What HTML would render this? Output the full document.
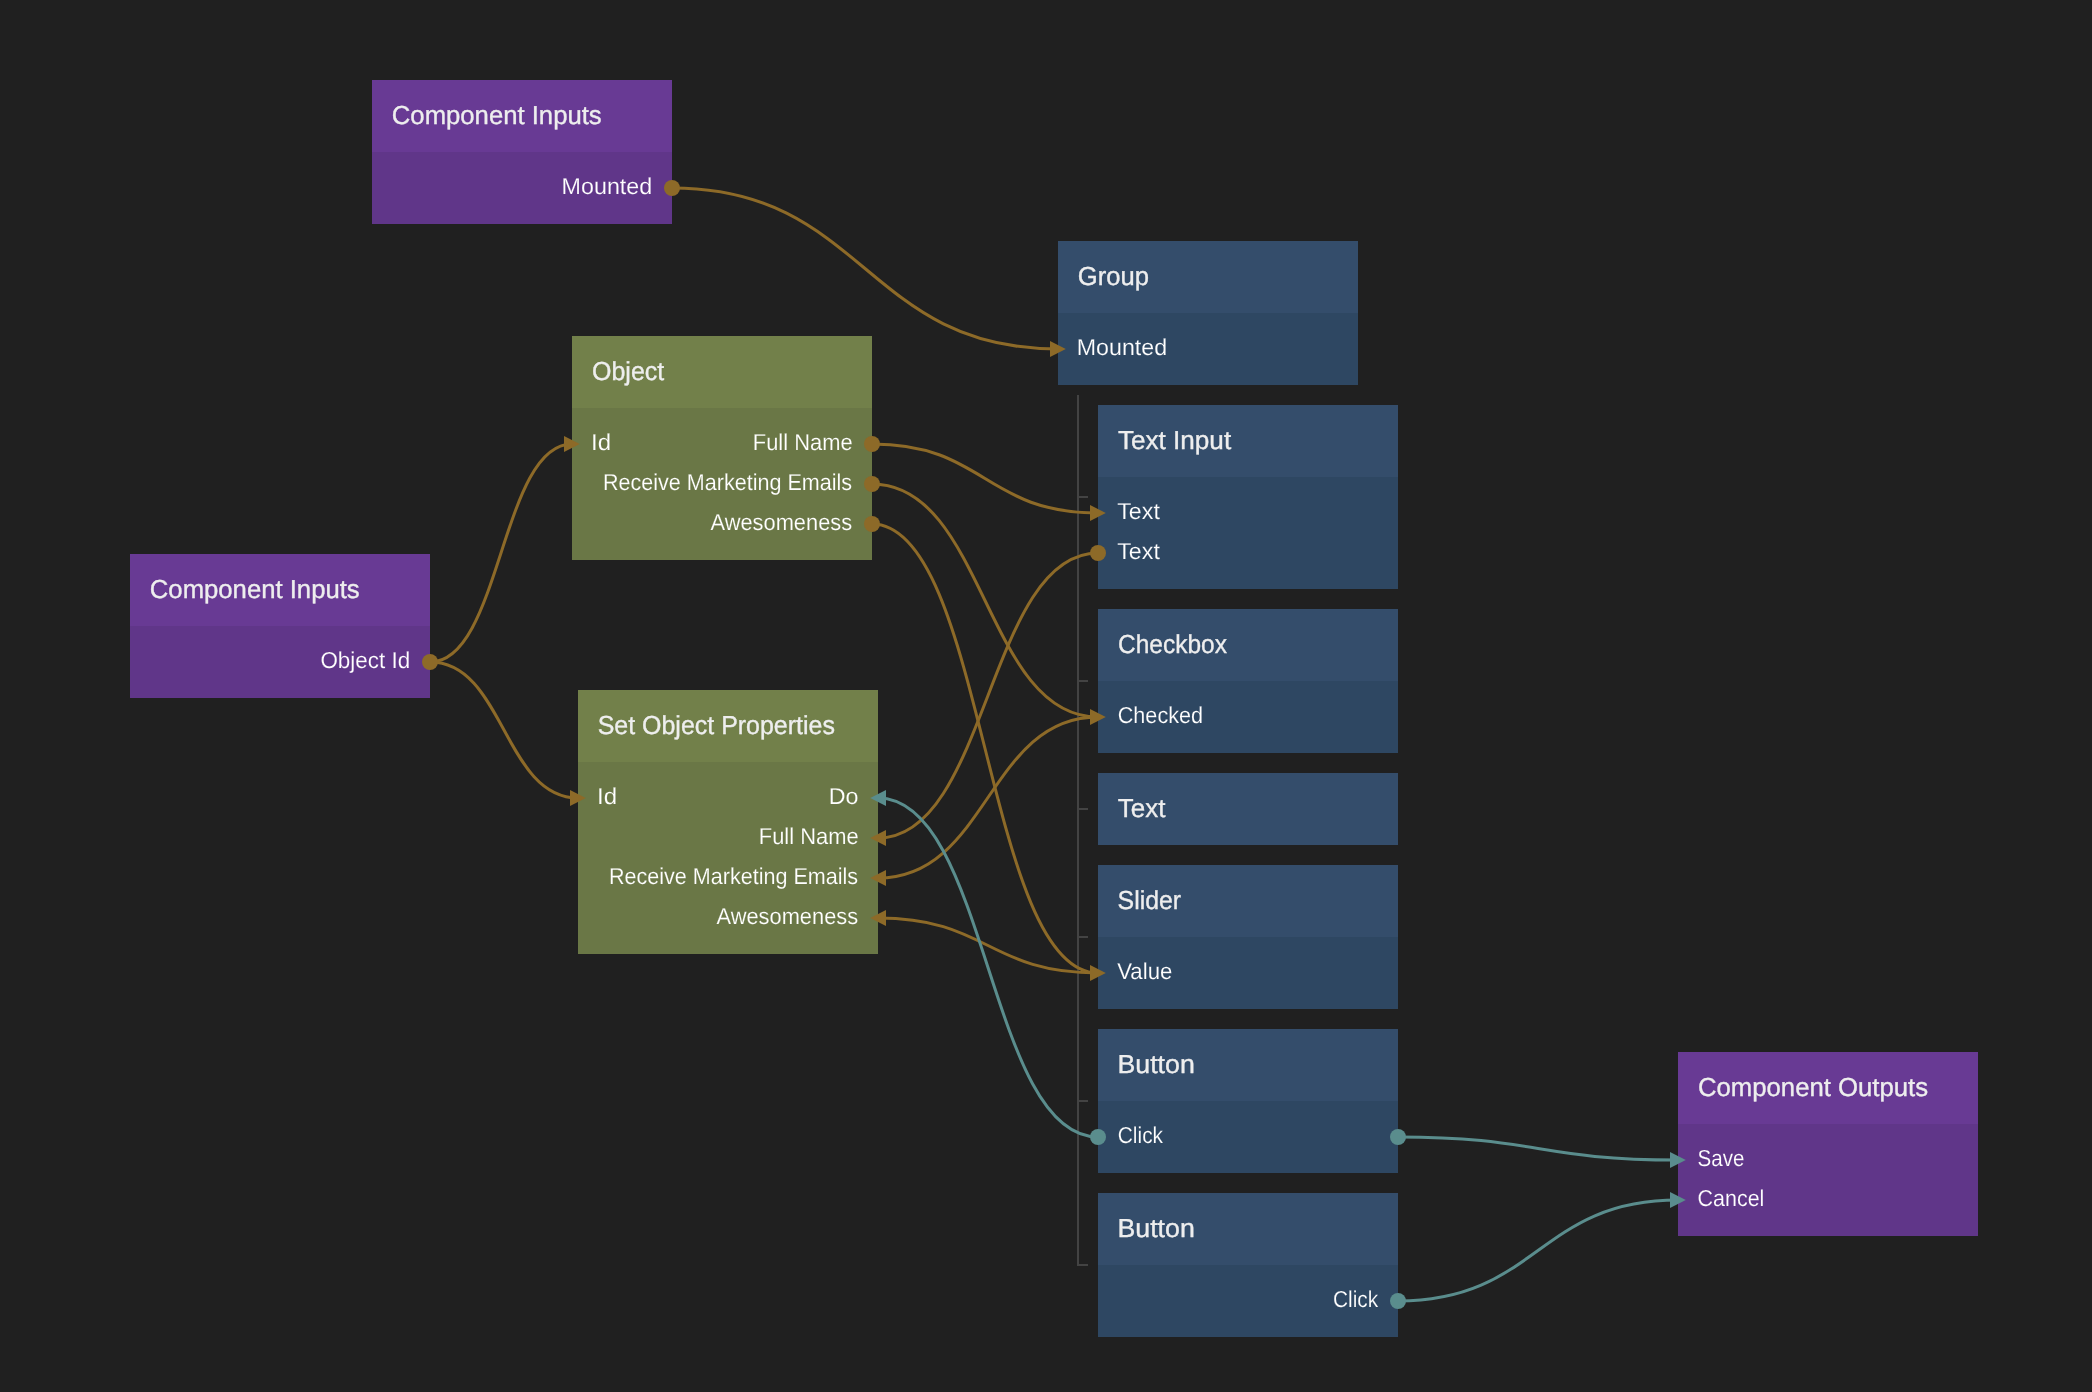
<!DOCTYPE html>
<html><head><meta charset="utf-8"><title>Node graph</title>
<style>
html,body{margin:0;padding:0;background:#202020;width:2092px;height:1392px;overflow:hidden}
svg{display:block;will-change:transform}
text{font-family:"Liberation Sans",sans-serif;text-rendering:geometricPrecision}
.t{font-size:26px;fill:#eeeeee}
.p{font-size:23px;fill:#ffffff}
text{stroke-width:0.15px}
.ph{stroke:#683a94}.pb{stroke:#603689}.gh{stroke:#72804a}.gb{stroke:#6a7746}.bh{stroke:#344d6b}.bb{stroke:#2e4762}
.t{stroke:#eeeeee;stroke-width:0.35px}
</style></head><body>
<svg width="2092" height="1392" viewBox="0 0 2092 1392">
<rect width="2092" height="1392" fill="#202020"/>
<path d="M1078 395 V1265 H1088 M1078 497 H1088 M1078 681 H1088 M1078 809 H1088 M1078 937 H1088 M1078 1101 H1088" stroke="#434343" stroke-width="2" fill="none"/>
<rect x="372" y="80" width="300" height="144" fill="#603689"/>
<rect x="372" y="80" width="300" height="72" fill="#683a94"/>
<rect x="1058" y="241" width="300" height="144" fill="#2e4762"/>
<rect x="1058" y="241" width="300" height="72" fill="#344d6b"/>
<rect x="572" y="336" width="300" height="224" fill="#6a7746"/>
<rect x="572" y="336" width="300" height="72" fill="#72804a"/>
<rect x="130" y="554" width="300" height="144" fill="#603689"/>
<rect x="130" y="554" width="300" height="72" fill="#683a94"/>
<rect x="578" y="690" width="300" height="264" fill="#6a7746"/>
<rect x="578" y="690" width="300" height="72" fill="#72804a"/>
<rect x="1098" y="405" width="300" height="184" fill="#2e4762"/>
<rect x="1098" y="405" width="300" height="72" fill="#344d6b"/>
<rect x="1098" y="609" width="300" height="144" fill="#2e4762"/>
<rect x="1098" y="609" width="300" height="72" fill="#344d6b"/>
<rect x="1098" y="773" width="300" height="72" fill="#2e4762"/>
<rect x="1098" y="773" width="300" height="72" fill="#344d6b"/>
<rect x="1098" y="865" width="300" height="144" fill="#2e4762"/>
<rect x="1098" y="865" width="300" height="72" fill="#344d6b"/>
<rect x="1098" y="1029" width="300" height="144" fill="#2e4762"/>
<rect x="1098" y="1029" width="300" height="72" fill="#344d6b"/>
<rect x="1098" y="1193" width="300" height="144" fill="#2e4762"/>
<rect x="1098" y="1193" width="300" height="72" fill="#344d6b"/>
<rect x="1678" y="1052" width="300" height="184" fill="#603689"/>
<rect x="1678" y="1052" width="300" height="72" fill="#683a94"/>
<path d="M672 188 C865 188 865 349 1058 349" stroke="#8d6a28" stroke-width="3" fill="none"/>
<path d="M430 662 C501 662 501 444 572 444" stroke="#8d6a28" stroke-width="3" fill="none"/>
<path d="M430 662 C504 662 504 798 578 798" stroke="#8d6a28" stroke-width="3" fill="none"/>
<path d="M872 444 C985 444 985 513 1098 513" stroke="#8d6a28" stroke-width="3" fill="none"/>
<path d="M872 484 C985 484 985 717 1098 717" stroke="#8d6a28" stroke-width="3" fill="none"/>
<path d="M872 524 C985 524 985 973 1098 973" stroke="#8d6a28" stroke-width="3" fill="none"/>
<path d="M1098 553 C988 553 988 838 878 838" stroke="#8d6a28" stroke-width="3" fill="none"/>
<path d="M1098 717 C988 717 988 878 878 878" stroke="#8d6a28" stroke-width="3" fill="none"/>
<path d="M1098 973 C988 973 988 918 878 918" stroke="#8d6a28" stroke-width="3" fill="none"/>
<path d="M1098 1137 C988 1137 988 798 878 798" stroke="#5a8d8d" stroke-width="3" fill="none"/>
<path d="M1398 1137 C1538 1137 1538 1160 1678 1160" stroke="#5a8d8d" stroke-width="3" fill="none"/>
<path d="M1398 1301 C1538 1301 1538 1200 1678 1200" stroke="#5a8d8d" stroke-width="3" fill="none"/>
<circle cx="672" cy="188" r="8" fill="#8d6a28"/>
<circle cx="872" cy="444" r="8" fill="#8d6a28"/>
<circle cx="872" cy="484" r="8" fill="#8d6a28"/>
<circle cx="872" cy="524" r="8" fill="#8d6a28"/>
<circle cx="430" cy="662" r="8" fill="#8d6a28"/>
<circle cx="1098" cy="553" r="8" fill="#8d6a28"/>
<circle cx="1098" cy="1137" r="8" fill="#5a8d8d"/>
<circle cx="1398" cy="1137" r="8" fill="#5a8d8d"/>
<circle cx="1398" cy="1301" r="8" fill="#5a8d8d"/>
<path d="M1050 341 L1065.8 349 L1050 357 Z" fill="#8d6a28"/>
<path d="M564 436 L579.8 444 L564 452 Z" fill="#8d6a28"/>
<path d="M570 790 L585.8 798 L570 806 Z" fill="#8d6a28"/>
<path d="M1090 505 L1105.8 513 L1090 521 Z" fill="#8d6a28"/>
<path d="M1090 709 L1105.8 717 L1090 725 Z" fill="#8d6a28"/>
<path d="M1090 965 L1105.8 973 L1090 981 Z" fill="#8d6a28"/>
<path d="M1670 1152 L1685.8 1160 L1670 1168 Z" fill="#5a8d8d"/>
<path d="M1670 1192 L1685.8 1200 L1670 1208 Z" fill="#5a8d8d"/>
<path d="M886 790 L870.2 798 L886 806 Z" fill="#5a8d8d"/>
<path d="M886 830 L870.2 838 L886 846 Z" fill="#8d6a28"/>
<path d="M886 870 L870.2 878 L886 886 Z" fill="#8d6a28"/>
<path d="M886 910 L870.2 918 L886 926 Z" fill="#8d6a28"/>
<text class="t ph" transform="translate(391.80 124) scale(0.9879 1)">Component Inputs</text>
<text class="p pb" transform="translate(561.60 194) scale(1.0123 1)">Mounted</text>
<text class="t bh" transform="translate(1077.78 285) scale(0.9847 1)">Group</text>
<text class="p bb" transform="translate(1076.75 355) scale(1.0093 1)">Mounted</text>
<text class="t gh" transform="translate(592.05 380) scale(0.9603 1)">Object</text>
<text class="p gb" transform="translate(591.03 450) scale(1.0445 1)">Id</text>
<text class="p gb" transform="translate(752.76 450) scale(0.9525 1)">Full Name</text>
<text class="p gb" transform="translate(602.91 490) scale(0.9371 1)">Receive Marketing Emails</text>
<text class="p gb" transform="translate(710.52 530) scale(0.9495 1)">Awesomeness</text>
<text class="t ph" transform="translate(149.80 598) scale(0.9879 1)">Component Inputs</text>
<text class="p pb" transform="translate(320.42 668) scale(0.9755 1)">Object Id</text>
<text class="t gh" transform="translate(597.70 734) scale(0.9597 1)">Set Object Properties</text>
<text class="p gb" transform="translate(597.03 804) scale(1.0445 1)">Id</text>
<text class="p gb" transform="translate(828.77 804) scale(1.0108 1)">Do</text>
<text class="p gb" transform="translate(758.76 844) scale(0.9525 1)">Full Name</text>
<text class="p gb" transform="translate(608.91 884) scale(0.9371 1)">Receive Marketing Emails</text>
<text class="p gb" transform="translate(716.52 924) scale(0.9495 1)">Awesomeness</text>
<text class="t bh" transform="translate(1117.88 449) scale(1.0048 1)">Text Input</text>
<text class="p bb" transform="translate(1117.21 519) scale(1.0106 1)">Text</text>
<text class="p bb" transform="translate(1117.21 559) scale(1.0106 1)">Text</text>
<text class="t bh" transform="translate(1118.01 653) scale(0.9416 1)">Checkbox</text>
<text class="p bb" transform="translate(1117.71 723) scale(0.9407 1)">Checked</text>
<text class="t bh" transform="translate(1117.84 817) scale(0.9979 1)">Text</text>
<text class="t bh" transform="translate(1117.62 909) scale(0.9556 1)">Slider</text>
<text class="p bb" transform="translate(1117.21 979) scale(0.9651 1)">Value</text>
<text class="t bh" transform="translate(1117.43 1073) scale(1.0290 1)">Button</text>
<text class="p bb" transform="translate(1117.77 1143) scale(0.9089 1)">Click</text>
<text class="t bh" transform="translate(1117.43 1237) scale(1.0290 1)">Button</text>
<text class="p bb" transform="translate(1332.98 1307) scale(0.9066 1)">Click</text>
<text class="t ph" transform="translate(1697.92 1096) scale(0.9892 1)">Component Outputs</text>
<text class="p pb" transform="translate(1697.48 1166) scale(0.8947 1)">Save</text>
<text class="p pb" transform="translate(1697.56 1206) scale(0.9333 1)">Cancel</text>
</svg>
</body></html>
